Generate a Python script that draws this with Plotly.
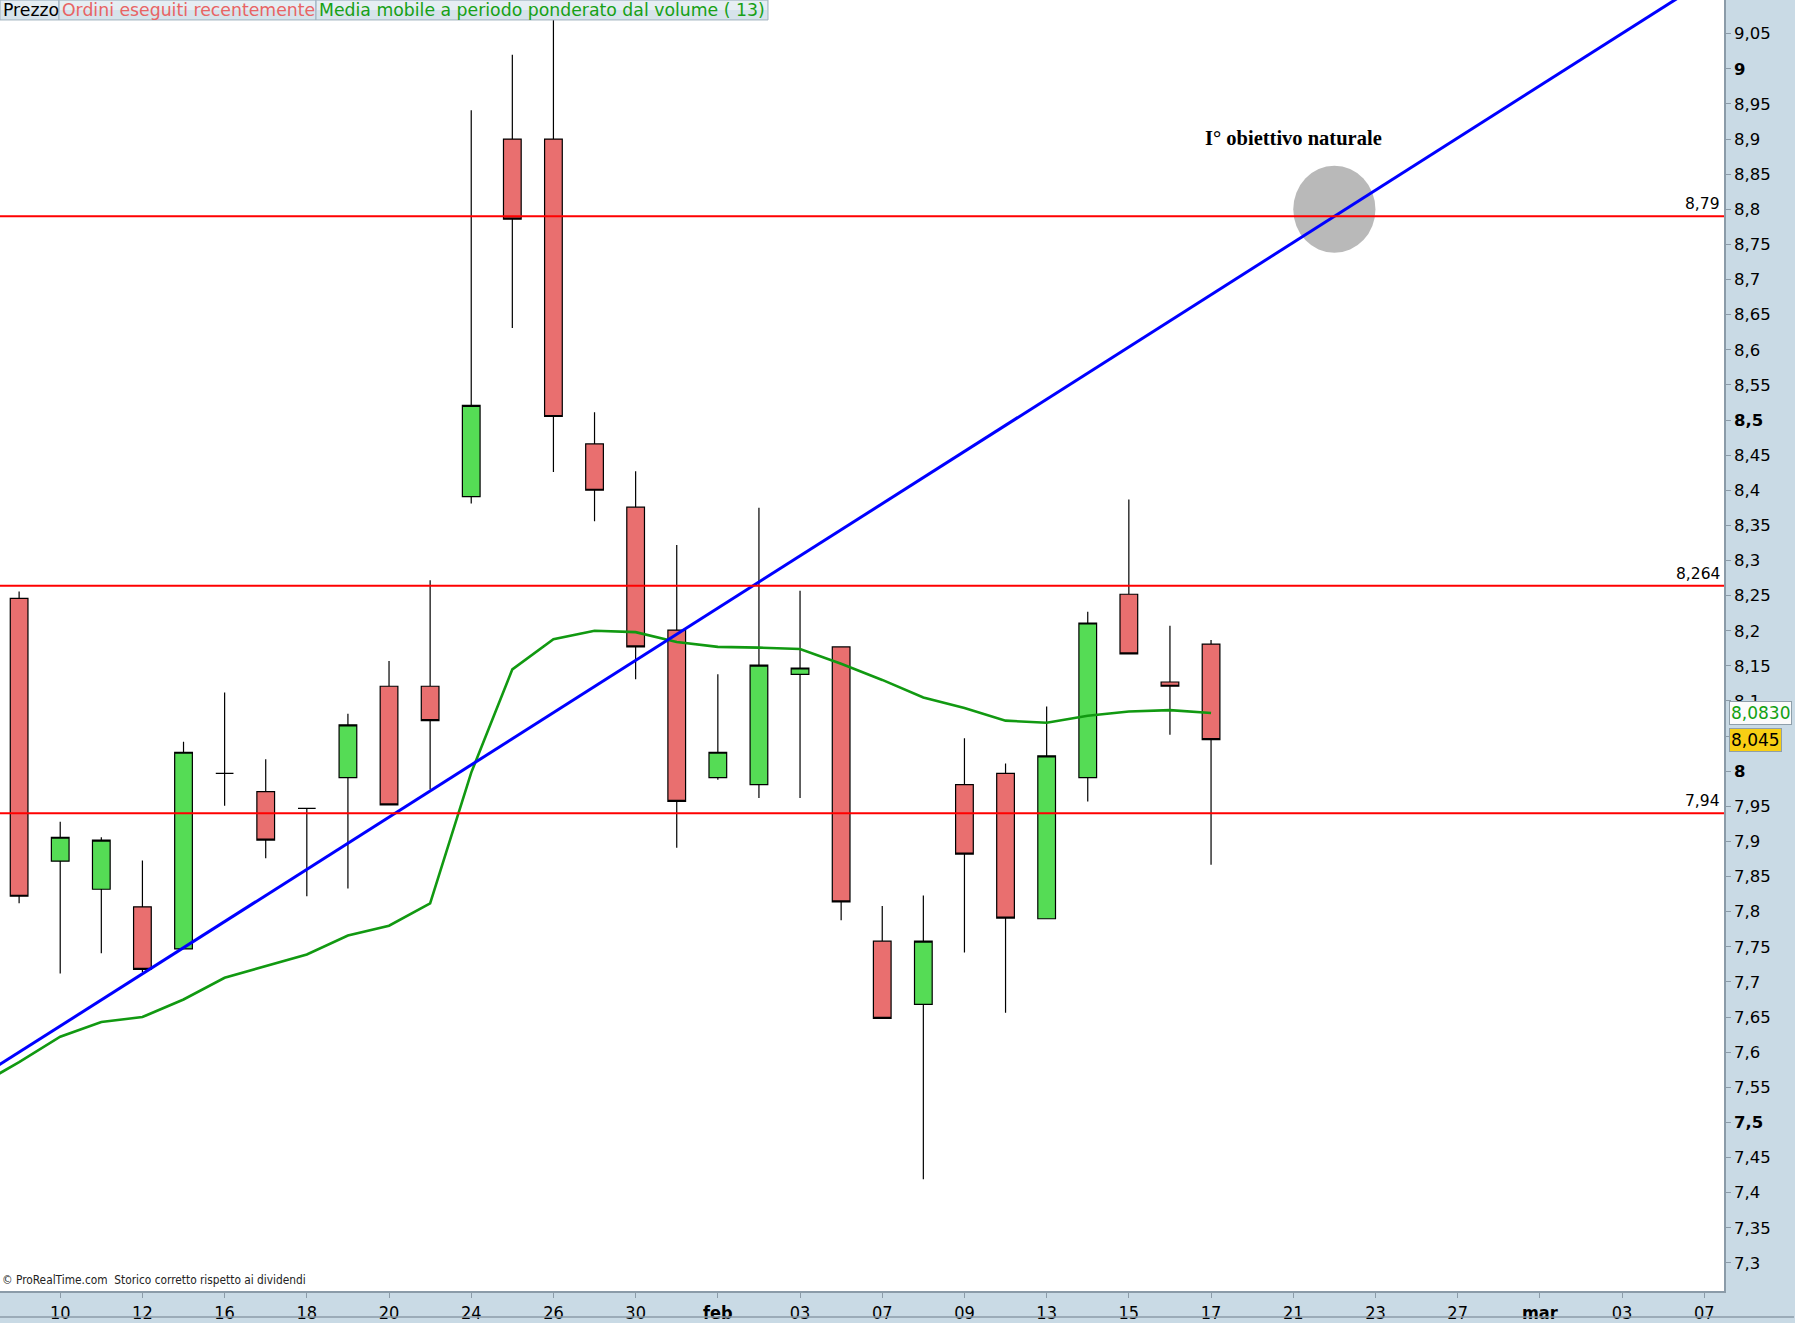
import plotly.graph_objects as go

# ---------------- data ----------------
trading_days = [
    "2017-01-06", "2017-01-09", "2017-01-10", "2017-01-11", "2017-01-12", "2017-01-13",
    "2017-01-16", "2017-01-17", "2017-01-18", "2017-01-19", "2017-01-20",
    "2017-01-23", "2017-01-24", "2017-01-25", "2017-01-26", "2017-01-27",
    "2017-01-30", "2017-01-31", "2017-02-01", "2017-02-02", "2017-02-03",
    "2017-02-06", "2017-02-07", "2017-02-08", "2017-02-09", "2017-02-10",
    "2017-02-13", "2017-02-14", "2017-02-15", "2017-02-16", "2017-02-17",
    "2017-02-20", "2017-02-21", "2017-02-22", "2017-02-23", "2017-02-24",
    "2017-02-27", "2017-02-28", "2017-03-01", "2017-03-02", "2017-03-03",
    "2017-03-06", "2017-03-07",
]

candle_dates = trading_days[1:31]
opens = [8.246, 7.872, 7.832, 7.807, 7.747, 7.997, 7.971, 7.947, 7.991, 8.121,
         8.121, 8.391, 8.900, 8.900, 8.466, 8.376, 8.201, 7.991, 7.981, 8.138,
         8.177, 7.758, 7.668, 7.981, 7.997, 7.790, 7.991, 8.252, 8.127, 8.181]
highs = [8.256, 7.928, 7.906, 7.873, 8.042, 8.112, 8.017, 7.947, 8.082, 8.157,
         8.272, 8.941, 9.020, 9.090, 8.511, 8.427, 8.322, 8.138, 8.375, 8.257,
         8.177, 7.808, 7.823, 8.047, 8.011, 8.092, 8.227, 8.387, 8.207, 8.187]
lows = [7.812, 7.712, 7.741, 7.714, 7.747, 7.951, 7.876, 7.822, 7.833, 7.952,
        7.974, 8.381, 8.631, 8.426, 8.356, 8.131, 7.891, 7.988, 7.962, 7.962,
        7.788, 7.648, 7.419, 7.742, 7.656, 7.790, 7.957, 8.167, 8.052, 7.867]
closes = [7.822, 7.906, 7.902, 7.718, 8.027, 7.997, 7.902, 7.947, 8.066, 7.952,
          8.072, 8.521, 8.786, 8.505, 8.400, 8.177, 7.957, 8.027, 8.151, 8.147,
          7.814, 7.648, 7.758, 7.882, 7.791, 8.022, 8.211, 8.167, 8.121, 8.045]

vwma_dates = trading_days[0:31]
vwma_values = [7.552, 7.586, 7.622, 7.643, 7.650, 7.675, 7.706, 7.723, 7.739, 7.766,
               7.780, 7.812, 7.998, 8.145, 8.188, 8.200, 8.198, 8.184, 8.177, 8.176,
               8.174, 8.153, 8.130, 8.105, 8.090, 8.072, 8.069, 8.079, 8.085, 8.087,
               8.083]

trend_dates = ["2017-01-09", "2017-02-22"]
trend_values = [7.60, 8.79]

levels = [8.79, 8.264, 7.94]
level_labels = ["8,79", "8,264", "7,94"]

target_date = "2017-02-22"
target_level = 8.80
target_text = "I° obiettivo naturale"

x_tick_dates = ["2017-01-10", "2017-01-12", "2017-01-16", "2017-01-18", "2017-01-20",
                "2017-01-24", "2017-01-26", "2017-01-30", "2017-02-01", "2017-02-03",
                "2017-02-07", "2017-02-09", "2017-02-13", "2017-02-15", "2017-02-17",
                "2017-02-21", "2017-02-23", "2017-02-27", "2017-03-01", "2017-03-03",
                "2017-03-07"]
x_tick_labels = ["10", "12", "16", "18", "20", "24", "26", "30", "<b>feb</b>", "03",
                 "07", "09", "13", "15", "17", "21", "23", "27", "<b>mar</b>", "03", "07"]

y_ticks = [7.3, 7.35, 7.4, 7.45, 7.5, 7.55, 7.6, 7.65, 7.7, 7.75, 7.8, 7.85, 7.9, 7.95,
           8.0, 8.05, 8.1, 8.15, 8.2, 8.25, 8.3, 8.35, 8.4, 8.45, 8.5, 8.55, 8.6, 8.65,
           8.7, 8.75, 8.8, 8.85, 8.9, 8.95, 9.0, 9.05]
y_bold = [7.5, 8.0, 8.5, 9.0]

last_close = closes[-1]
last_vwma = vwma_values[-1]

# ---------------- helpers ----------------
pos = {d: i for i, d in enumerate(trading_days)}
first = pos[candle_dates[0]]
x_range = [first - 0.465, first + 41.48]
y_range = [7.260, 9.098]

W, H = 1795, 1323
ML, MR, MT, MB = 0, 71, 0, 28
PW, PH = W - ML - MR, H - MT - MB


def px(x):
    return x / PW


def py(y):
    return 1 - y / PH


def fmt(v):
    s = f"{v:g}".replace(".", ",")
    return f"<b>{s}</b>" if v in y_bold else s


AX_FONT = "DejaVu Sans, Lucida Grande, Verdana, sans-serif"
NARROW = "Liberation Sans Narrow, DejaVu Sans Condensed, Liberation Sans, Arial, sans-serif"
AXIS_COL = "#8b9ba8"

fig = go.Figure()

fig.add_trace(go.Candlestick(
    x=[pos[d] for d in candle_dates], open=opens, high=highs, low=lows, close=closes,
    increasing=dict(fillcolor="#55dc55", line=dict(color="black", width=1.2)),
    decreasing=dict(fillcolor="#e96f6f", line=dict(color="black", width=1.2)),
    whiskerwidth=0, showlegend=False, hoverinfo="skip"))

fig.add_trace(go.Scatter(
    x=[pos[d] for d in vwma_dates], y=vwma_values, mode="lines",
    line=dict(color="#119911", width=2.6), showlegend=False, hoverinfo="skip"))

# trend line through two anchors, extended across the axis
tx0, tx1 = pos[trend_dates[0]], pos[trend_dates[1]]
slope = (trend_values[1] - trend_values[0]) / (tx1 - tx0)
ext_x = [x_range[0] - 1, x_range[1] + 1]
ext_y = [trend_values[0] + (x - tx0) * slope for x in ext_x]
fig.add_trace(go.Scatter(
    x=ext_x, y=ext_y, mode="lines", line=dict(color="#0000ff", width=3),
    showlegend=False, hoverinfo="skip"))

shapes = []
annotations = []

# target circle
cx = pos[target_date]
shapes.append(dict(type="circle", xref="x", yref="y", x0=cx - 1.0, x1=cx + 1.0,
                   y0=target_level - 0.062, y1=target_level + 0.062,
                   fillcolor="#b9b9b9", line=dict(width=0), layer="below"))
annotations.append(dict(xref="x", yref="y", x=cx - 1.0, y=target_level + 0.102,
                        text=f"<b>{target_text}</b>", showarrow=False,
                        font=dict(family="Liberation Serif, Times New Roman, serif",
                                  size=20.5, color="black")))

# horizontal levels
for lv, lab in zip(levels, level_labels):
    shapes.append(dict(type="line", xref="paper", yref="y", x0=0, x1=1, y0=lv, y1=lv,
                       line=dict(color="#ff0000", width=2)))
    annotations.append(dict(xref="paper", yref="y", x=1, y=lv, xanchor="right",
                            yanchor="bottom", xshift=-2, yshift=1, text=lab,
                            showarrow=False,
                            font=dict(family=AX_FONT, size=15.5, color="black")))

# price tags on right axis
annotations.append(dict(xref="paper", yref="y", x=1, y=last_vwma, xanchor="left",
                        yanchor="middle", xshift=5, text=f"{last_vwma:.4f}".replace(".", ","),
                        showarrow=False, bgcolor="#fbfbfb", bordercolor="#8f9faa",
                        borderwidth=1, borderpad=1,
                        font=dict(family=AX_FONT, size=17, color="#11a011")))
annotations.append(dict(xref="paper", yref="y", x=1, y=last_close, xanchor="left",
                        yanchor="middle", xshift=5, text=f"{last_close:.3f}".replace(".", ","),
                        showarrow=False, bgcolor="#f8cf14", bordercolor="#8f9faa",
                        borderwidth=1, borderpad=1,
                        font=dict(family=AX_FONT, size=17, color="black")))

# header legend bar
boxes = [(0, 59, "Prezzo", "black"),
         (59, 316, "Ordini eseguiti recentemente", "#e86464"),
         (316, 768, "Media mobile a periodo ponderato dal volume ( 13)", "#16a016")]
for x0, x1, txt, col in boxes:
    shapes.append(dict(type="rect", xref="paper", yref="paper", x0=px(x0), x1=px(x1),
                       y0=py(20), y1=py(0), fillcolor="#d6e3eb",
                       line=dict(color="#9fb1be", width=1)))
    shapes.append(dict(type="rect", xref="paper", yref="paper", x0=px(x0 + 1), x1=px(x1 - 1),
                       y0=py(10), y1=py(1), fillcolor="#e6eef3",
                       line=dict(width=0)))
    annotations.append(dict(xref="paper", yref="paper", x=px(x0 + 1), y=py(10),
                            xanchor="left", yanchor="middle", text=txt, showarrow=False,
                            font=dict(family=AX_FONT, size=17.3, color=col)))

# copyright note
annotations.append(dict(xref="paper", yref="paper", x=0, y=py(1293), xanchor="left",
                        yanchor="bottom", showarrow=False,
                        text="© ProRealTime.com  Storico corretto rispetto ai dividendi",
                        font=dict(family=NARROW, size=11.8, color="#222222")))

# bottom frame line of the axis band
shapes.append(dict(type="line", xref="paper", yref="paper", x0=0, x1=(W - 1) / PW,
                   y0=-(MB - 2) / PH, y1=-(MB - 2) / PH,
                   line=dict(color=AXIS_COL, width=1.5)))

fig.update_layout(
    width=W, height=H,
    margin=dict(l=ML, r=MR, t=MT, b=MB, pad=0),
    paper_bgcolor="#c9dae5", plot_bgcolor="white",
    showlegend=False, boxgap=0.385, hovermode=False,
    shapes=shapes, annotations=annotations,
    xaxis=dict(range=x_range, tickvals=[pos[d] for d in x_tick_dates],
               ticktext=x_tick_labels, ticks="outside", ticklen=5, tickcolor=AXIS_COL,
               showline=True, linecolor=AXIS_COL, linewidth=1.5, showgrid=False,
               zeroline=False, rangeslider=dict(visible=False),
               tickfont=dict(family=NARROW, size=18, color="black")),
    yaxis=dict(side="right", range=y_range, tickvals=y_ticks,
               ticktext=[fmt(v) for v in y_ticks], ticks="outside", ticklen=5,
               tickcolor=AXIS_COL, showline=True, linecolor=AXIS_COL, linewidth=1.5,
               showgrid=False, zeroline=False,
               tickfont=dict(family=AX_FONT, size=16.5, color="black")),
)

fig.write_html("out.html", config={"displayModeBar": False},
               post_script="document.body.style.margin='0';document.body.style.overflow='hidden';")
